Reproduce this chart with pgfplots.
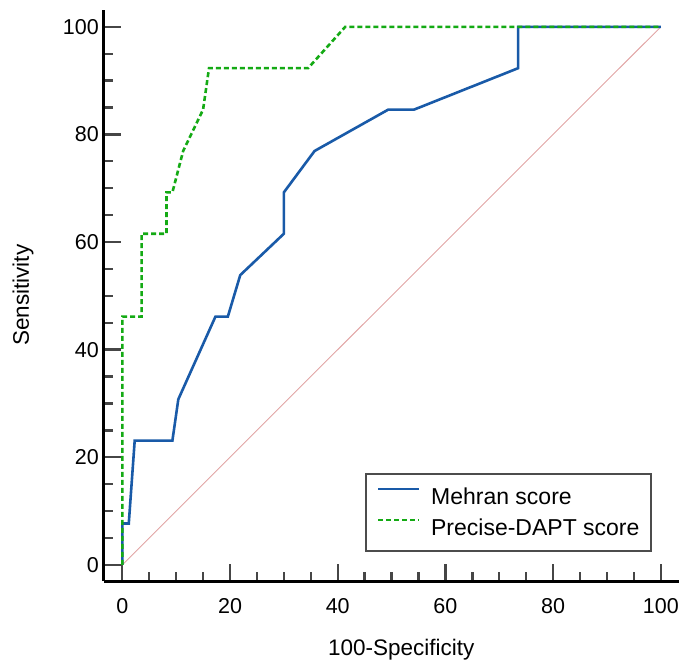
\documentclass[border=0pt]{standalone}
\usepackage{fontspec}
\setmainfont{Liberation Sans}
\usepackage{pgfplots}
\pgfplotsset{compat=1.18}
\definecolor{mblue}{RGB}{25,90,168}
\definecolor{pgreen}{RGB}{20,170,20}
\definecolor{diag}{RGB}{225,165,165}
\definecolor{tickgray}{RGB}{70,70,70}
\begin{document}
\begin{tikzpicture}
\begin{axis}[
  scale only axis,
  width=574.6pt, height=571.4pt,
  xmin=-3.4, xmax=103.3, ymin=-3, ymax=103.2,
  axis x line=bottom, axis y line=left,
  axis line style={-, line width=3pt, black},
  xtick={0,20,...,100}, ytick={0,20,...,100},
  minor tick num=3,
  tick align=inside,
  major tick length=17pt, minor tick length=9pt,
  every tick/.style={line width=2.3pt, tickgray},
  /pgf/number format/assume math mode=true,
  tick label style={font=\fontsize{21.5}{25}\selectfont},
  xticklabel style={inner sep=0pt, anchor=north, yshift=-17pt},
  yticklabel style={inner sep=0pt, anchor=east, xshift=-5pt},
  xlabel={100-Specificity},
  ylabel={Sensitivity},
  label style={font=\fontsize{22.5}{26}\selectfont},
  xlabel style={at={(axis description cs:0.5173,0)}, anchor=base, inner sep=0pt, yshift=-74pt},
  ylabel style={at={(axis description cs:0,0.5)}, anchor=base, inner sep=0pt, yshift=75pt},
  legend style={at={(axis cs:45,17.1)}, anchor=north west,
    draw=black!70, line width=2pt, fill=white,
    inner xsep=12pt, inner ysep=10.5pt,
    font=\fontsize{23}{27}\selectfont,
    nodes={inner sep=0pt, text height=20pt, text depth=5pt},
    column sep=11pt, row sep=6pt},
  legend cell align=left,
  legend image code/.code={\draw[#1, line width=1.5pt] (0pt,8pt) -- (41pt,8pt);},
]
\addplot[diag, line width=0.9pt, forget plot] coordinates {(0,0) (100,100)};
\addplot[mblue, line width=2.6pt] coordinates {
(0,0) (0,7.69) (1.2,7.69) (2.3,23.08) (9.3,23.08) (10.4,30.77) (17.3,46.15)
(19.6,46.15) (21.9,53.85) (30.0,61.54) (30.0,69.23) (35.7,76.92) (49.4,84.62)
(54.2,84.62) (73.5,92.31) (73.5,100) (100,100)};
\addlegendentry{Mehran score}
\addplot[pgreen, line width=2.6pt, dash pattern=on 5pt off 3pt] coordinates {
(0,0) (0,46.15) (3.6,46.15) (3.6,61.54) (8.2,61.54) (8.2,69.23) (9.3,69.23)
(11.3,76.92) (15.0,84.62) (16.1,92.31) (34.5,92.31) (41.4,100) (100,100)};
\addlegendentry[legend image code/.code={\draw[pgreen, line width=1.5pt, dash pattern=on 3pt off 2pt] (0pt,8pt) -- (41pt,8pt);}]{Precise-DAPT score}
\end{axis}
\pgfresetboundingbox
\useasboundingbox (current axis.south west) ++(-104pt,-78pt) rectangle ++(679pt,659pt);
\end{tikzpicture}
\end{document}
